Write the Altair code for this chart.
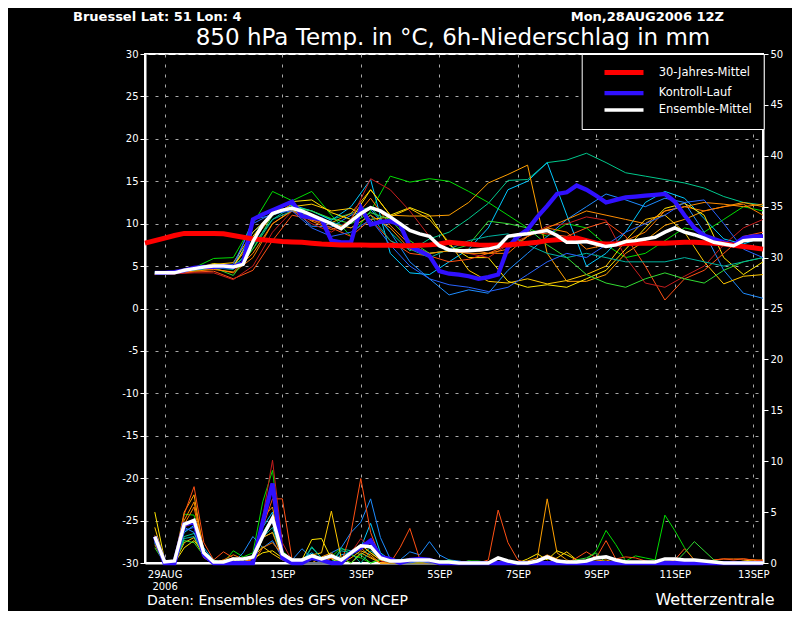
import altair as alt
import pandas as pd

# ---------------- axis / categories ----------------
# x values are hours after the model run 28AUG2006 12Z
x_domain = [0, 378]
x_tick_hours = [12, 84, 132, 180, 228, 276, 324, 372]
x_tick_labels = [["29AUG", "2006"], "1SEP", "3SEP", "5SEP", "7SEP", "9SEP", "11SEP", "13SEP"]
temp_ticks = list(range(-30, 31, 5))
precip_ticks = list(range(0, 51, 5))

series_names = ["30-Jahres-Mittel", "Kontroll-Lauf", "Ensemble-Mittel"]
series_colors = ["#ff0000", "#3010ff", "#ffffff"]
series_widths = [5, 3.5, 3.5]

member_names = ["m01", "m02", "m03", "m04", "m05", "m06", "m07",
                "m08", "m09", "m10", "m11", "m12", "m13", "m14"]
member_colors = ["#00dc00", "#00c88c", "#00c8ff", "#1e8cff", "#ffa000", "#ff7800", "#ffe600",
                 "#ffc800", "#ff5014", "#c81e1e", "#32dc32", "#00b4a0", "#ff8c00", "#2864ff"]

# ---------------- 850 hPa temperature, members (12-hourly from h=6) ----------------
temp_members = {
    "m01": [4.2, 4.3, 4.8, 5.9, 6.0, 10.0, 13.8, 12.7, 13.8, 11.0, 8.5, 11.5, 15.6, 14.9, 15.3, 15.0,
            13.8, 12.5, 11.0, 9.5, 8.5, 10.0, 9.5, 7.5, 6.0, 6.5, 8.0, 9.5, 9.0, 10.5, 12.0, 11.5],
    "m02": [4.1, 4.2, 4.6, 4.9, 5.0, 7.0, 10.5, 12.0, 11.5, 10.5, 11.2, 12.0, 9.0, 6.8, 8.2, 9.0,
            10.6, 12.4, 15.1, 15.2, 17.2, 17.5, 18.3, 17.2, 16.0, 15.6, 15.2, 14.8, 14.2, 13.2, 12.5, 12.2],
    "m03": [4.3, 4.3, 4.6, 5.0, 4.8, 9.0, 11.0, 12.2, 11.5, 10.4, 12.0, 15.2, 6.5, 4.2, 4.0, 5.5,
            7.0, 9.5, 14.0, 15.0, 17.2, 11.0, 5.0, 6.5, 9.0, 12.5, 13.8, 13.0, 10.6, 8.2, 7.6, 8.4],
    "m04": [4.1, 4.2, 4.5, 4.9, 4.7, 10.5, 11.0, 11.8, 9.7, 9.6, 11.0, 11.7, 9.0, 5.5, 3.5, 1.6,
            2.2, 1.8, 4.5, 6.5, 8.5, 10.5, 12.0, 13.5, 12.8, 12.0, 13.0, 12.5, 9.0, 4.5, 1.8, 1.2],
    "m05": [4.0, 4.1, 4.5, 4.8, 5.0, 8.0, 11.0, 12.3, 10.4, 10.1, 11.2, 14.0, 11.0, 10.9, 10.9, 11.0,
            12.5, 14.8, 15.8, 16.9, 6.5, 3.2, 3.2, 4.0, 6.5, 8.0, 9.8, 10.5, 11.5, 12.0, 12.5, 12.0],
    "m06": [4.0, 4.2, 4.5, 4.7, 4.2, 6.0, 10.0, 11.6, 10.3, 9.3, 10.2, 13.0, 9.8, 7.5, 6.5, 6.8,
            7.0, 6.5, 6.5, 8.5, 9.5, 9.0, 7.0, 7.5, 8.0, 9.0, 11.5, 12.0, 11.5, 12.0, 12.3, 11.0],
    "m07": [4.1, 4.4, 4.7, 5.3, 5.0, 8.5, 11.5, 12.6, 12.8, 11.3, 10.5, 14.0, 11.0, 11.9, 11.0, 7.5,
            6.0, 6.0, 3.2, 2.5, 2.8, 2.5, 3.5, 4.5, 7.0, 9.5, 11.8, 12.4, 11.0, 6.0, 4.0, 5.5],
    "m08": [4.2, 4.3, 4.6, 5.2, 5.4, 9.0, 11.2, 12.0, 12.3, 11.5, 11.8, 10.5, 10.8, 11.8, 10.5, 7.8,
            4.5, 3.2, 3.0, 3.5, 2.9, 3.3, 4.0, 5.0, 8.0, 10.5, 11.0, 9.0, 5.5, 2.9, 3.8, 4.0],
    "m09": [4.0, 4.1, 4.3, 4.4, 3.5, 4.5, 8.0, 11.0, 10.5, 9.5, 8.5, 10.5, 8.0, 6.5, 6.2, 5.5,
            5.8, 6.5, 7.5, 9.0, 8.8, 8.5, 9.5, 10.2, 8.5, 5.0, 1.0, 3.5, 4.5, 6.5, 8.5, 9.0],
    "m10": [4.0, 4.1, 4.2, 4.2, 3.4, 5.0, 9.0, 11.5, 10.0, 9.0, 10.5, 15.3, 14.0, 11.5, 8.5, 6.8,
            6.5, 6.0, 7.5, 8.5, 9.7, 10.0, 10.8, 10.4, 6.0, 3.0, 2.5, 3.8, 5.0, 7.5, 9.5, 10.5],
    "m11": [4.2, 4.3, 4.5, 4.8, 3.9, 7.0, 11.0, 12.0, 11.5, 10.6, 10.0, 11.3, 10.5, 8.0, 6.5, 6.8,
            7.5, 10.3, 10.0, 9.5, 7.5, 6.0, 4.0, 3.0, 2.5, 3.5, 4.2, 3.5, 3.0, 4.5, 5.5, 6.0],
    "m12": [4.1, 4.2, 4.5, 4.8, 4.6, 7.5, 10.5, 11.5, 11.0, 10.2, 9.5, 11.0, 8.0, 7.0, 6.0, 7.0,
            8.0, 8.5, 8.8, 7.5, 6.5, 6.0, 6.5, 6.0, 5.5, 5.5, 5.5, 6.0, 5.5, 5.0, 5.5, 6.0],
    "m13": [4.1, 4.2, 4.4, 4.6, 4.3, 6.5, 10.0, 11.5, 10.8, 10.0, 9.5, 11.0, 9.5, 7.0, 6.5, 6.8,
            6.5, 6.5, 7.0, 8.5, 9.5, 10.5, 11.5, 11.0, 10.5, 10.0, 11.5, 12.0, 12.5, 12.3, 12.0, 12.3],
    "m14": [4.2, 4.2, 4.6, 4.9, 5.2, 10.0, 11.2, 11.5, 9.5, 8.5, 9.0, 10.5, 7.5, 5.0, 3.5, 2.8,
            2.5, 2.0, 2.5, 4.0, 5.5, 6.5, 6.0, 7.5, 9.0, 10.0, 11.0, 12.5, 12.8, 10.0, 7.0, 6.0],
}

# ---------------- thick lines (6-hourly) ----------------
ens_mean_temp = [4.2, 4.2, 4.2, 4.5, 4.7, 4.9, 5.0, 5.0, 4.9, 5.2, 7.9, 9.9, 11.2, 11.6, 11.8, 11.5,
                 11.0, 10.5, 10.0, 9.4, 10.3, 11.2, 11.9, 11.5, 10.8, 10.0, 9.2, 8.8, 8.5, 7.4, 6.9, 6.8,
                 6.8, 6.9, 7.0, 7.3, 8.5, 8.7, 8.8, 9.0, 9.2, 8.6, 7.8, 7.8, 7.9, 7.6, 7.3, 7.5,
                 7.9, 8.0, 8.2, 8.4, 9.0, 9.5, 9.0, 8.7, 8.3, 7.8, 7.6, 7.4, 8.0, 8.1, 8.1]
control_temp = [4.2, 4.2, 4.3, 4.5, 4.8, 4.9, 4.9, 5.0, 4.9, 5.4, 10.5, 11.1, 11.6, 12.1, 12.6, 10.9,
                10.7, 10.5, 8.0, 7.8, 7.8, 11.9, 9.9, 10.2, 10.3, 9.9, 7.3, 6.8, 6.2, 4.4, 4.1, 4.0,
                3.8, 3.5, 3.7, 4.0, 7.2, 8.5, 9.3, 10.8, 12.1, 13.5, 13.7, 14.5, 14.0, 13.3, 12.5, 12.8,
                13.1, 13.2, 13.3, 13.4, 13.5, 12.6, 11.0, 9.5, 8.6, 8.2, 7.8, 7.5, 8.3, 8.5, 8.5]
# climatology, 6-hourly from h=0
clim_temp = [7.7, 8.0, 8.3, 8.6, 8.85, 8.85, 8.85, 8.85, 8.8, 8.6, 8.4, 8.2, 8.1, 8.0, 7.9, 7.85,
             7.8, 7.7, 7.6, 7.55, 7.5, 7.5, 7.5, 7.45, 7.45, 7.45, 7.4, 7.4, 7.45, 7.5, 7.6, 7.8,
             7.7, 7.6, 7.5, 7.45, 7.5, 7.5, 7.6, 7.7, 7.8, 8.0, 8.1, 8.2, 8.3, 8.0, 7.7, 7.6,
             7.6, 7.65, 7.7, 7.7, 7.7, 7.7, 7.75, 7.8, 7.8, 7.75, 7.7, 7.6, 7.45, 7.3, 7.15, 7.0]

# ---------------- 6h precipitation (hour: mm, other 6h steps dry) ----------------
precip_members = {
    "m01": {6: 2.4, 24: 4.8, 30: 4.7, 36: 0.8, 54: 1.2, 60: 0.6, 66: 1.0, 72: 6.0, 78: 9.1, 84: 1.2,
            90: 0.3, 114: 0.6, 120: 1.5, 126: 0.8, 132: 0.5, 144: 0.3, 150: 0.2, 162: 0.3, 174: 0.3,
            186: 0.3, 198: 0.2, 204: 0.2, 270: 0.3, 276: 1.2, 282: 3.2, 288: 1.8, 294: 0.2, 300: 0.7,
            306: 0.5, 312: 0.3, 318: 4.7, 324: 3.2, 330: 1.5, 336: 0.3},
    "m02": {6: 2.0, 24: 2.6, 30: 2.9, 36: 1.2, 72: 3.0, 78: 4.5, 84: 0.5, 102: 1.6, 108: 0.5,
            120: 1.4, 126: 1.2, 132: 0.8, 138: 1.5, 144: 0.3, 168: 0.3, 180: 0.2, 186: 0.2},
    "m03": {6: 2.2, 24: 3.0, 30: 3.7, 36: 1.5, 42: 0.2, 66: 0.8, 72: 3.5, 78: 5.0, 84: 0.6, 96: 0.4,
            102: 1.0, 108: 0.3, 120: 0.8, 126: 1.0, 132: 1.5, 138: 3.9, 144: 1.0, 150: 0.3, 156: 0.3,
            162: 0.4, 168: 0.2},
    "m04": {6: 2.0, 24: 3.5, 30: 3.0, 36: 0.5, 60: 1.0, 66: 2.6, 72: 1.5, 78: 2.2, 84: 0.5, 90: 0.3,
            96: 1.4, 102: 0.5, 114: 1.0, 120: 1.5, 126: 3.0, 132: 4.0, 138: 6.3, 144: 2.5, 150: 0.4,
            156: 0.3, 162: 1.1, 168: 0.8, 174: 2.1, 180: 0.8, 186: 0.3, 192: 0.2},
    "m05": {6: 1.8, 18: 0.3, 24: 5.0, 30: 6.7, 36: 1.0, 72: 4.5, 78: 5.5, 84: 0.4, 108: 0.6, 114: 1.0,
            126: 0.5, 132: 1.2, 138: 0.8, 234: 0.2, 240: 0.5, 246: 6.3, 252: 1.0, 258: 0.3, 276: 0.2,
            282: 0.3},
    "m06": {6: 2.7, 24: 3.8, 30: 5.5, 36: 0.7, 48: 0.3, 54: 0.8, 60: 0.4, 72: 1.5, 78: 2.0, 84: 0.8,
            96: 0.3, 102: 0.8, 114: 0.5, 126: 1.0, 132: 1.8, 138: 1.0, 144: 0.3, 348: 0.3, 354: 0.4,
            360: 0.4, 366: 0.4, 372: 0.3, 378: 0.3},
    "m07": {6: 5.0, 12: 0.3, 24: 1.5, 30: 2.2, 36: 1.0, 54: 0.3, 66: 0.4, 72: 1.0, 78: 1.2, 84: 0.5,
            96: 0.3, 102: 2.3, 108: 2.4, 114: 0.4, 126: 1.2, 132: 1.8, 138: 1.0, 144: 0.3, 234: 0.4,
            240: 0.9, 246: 0.3, 252: 1.2, 258: 0.8, 264: 0.3},
    "m08": {6: 3.5, 12: 0.2, 24: 2.0, 30: 2.5, 36: 0.6, 66: 0.5, 72: 1.6, 78: 0.9, 84: 0.3, 102: 0.8,
            108: 1.0, 114: 5.1, 120: 0.5, 132: 1.0, 138: 0.5, 252: 0.5, 258: 1.1, 264: 0.3, 366: 0.2,
            372: 0.3},
    "m09": {6: 2.3, 24: 4.8, 30: 7.5, 36: 2.0, 42: 0.3, 48: 1.1, 54: 0.5, 66: 0.4, 72: 3.5, 78: 6.3,
            84: 6.3, 90: 0.3, 114: 0.5, 126: 3.0, 132: 8.3, 138: 3.0, 144: 0.5, 156: 1.5, 162: 3.4,
            168: 0.4, 210: 0.3, 216: 5.2, 222: 2.0, 228: 0.3, 264: 0.5, 270: 1.1, 276: 0.5, 282: 2.2,
            288: 0.4, 294: 0.6, 300: 0.5, 306: 0.2, 324: 0.3, 330: 1.4, 336: 0.3, 348: 0.3, 354: 0.4,
            360: 0.3, 366: 0.4, 372: 0.3, 378: 0.2},
    "m10": {6: 2.5, 24: 3.5, 30: 4.0, 36: 0.5, 72: 4.5, 78: 10.1, 84: 2.0, 90: 0.2, 126: 1.0,
            132: 2.4, 138: 1.5, 144: 0.2},
    "m11": {6: 1.5, 24: 2.2, 30: 2.0, 36: 0.7, 42: 0.3, 54: 0.5, 72: 2.5, 78: 3.0, 84: 0.8, 120: 0.5,
            132: 0.8, 144: 0.4, 150: 0.3, 174: 0.3, 186: 0.3, 198: 0.2, 264: 0.3, 270: 0.5, 276: 1.0,
            330: 1.0, 336: 2.1, 342: 1.2, 348: 0.3},
    "m12": {6: 2.0, 24: 2.4, 30: 2.6, 36: 0.8, 72: 2.5, 78: 3.5, 84: 0.4, 102: 1.5, 108: 0.5,
            120: 1.2, 126: 1.0, 138: 1.2, 144: 0.4},
    "m13": {6: 2.2, 24: 4.2, 30: 6.0, 36: 1.2, 48: 0.3, 72: 2.5, 78: 3.0, 84: 0.4, 126: 0.8,
            132: 1.5, 138: 0.6, 240: 0.3, 246: 0.8, 252: 0.4},
    "m14": {6: 2.1, 24: 3.2, 30: 3.5, 36: 0.6, 72: 3.0, 78: 4.0, 84: 0.6, 126: 1.0, 132: 1.8,
            138: 2.2, 144: 0.6, 150: 0.3, 168: 0.2},
}
control_precip = {6: 2.6, 24: 3.8, 30: 4.0, 36: 0.8, 72: 4.0, 78: 7.8, 84: 0.5, 102: 0.5, 108: 0.3,
                  126: 1.0, 132: 1.5, 138: 2.2, 144: 0.6, 150: 0.4, 162: 0.3, 168: 0.4, 174: 0.3}
ens_mean_precip = [2.6, 0.1, 0.2, 3.8, 4.2, 1.0, 0.1, 0.1, 0.4, 0.4, 0.6, 2.6, 4.4, 0.9, 0.3, 0.3,
                   0.7, 0.4, 0.7, 0.3, 1.0, 1.7, 1.6, 0.5, 0.2, 0.2, 0.3, 0.3, 0.3, 0.1, 0.1, 0.0,
                   0.0, 0.0, 0.0, 0.5, 0.2, 0.0, 0.0, 0.2, 0.6, 0.2, 0.1, 0.1, 0.2, 0.5, 0.6, 0.3,
                   0.1, 0.1, 0.1, 0.1, 0.4, 0.4, 0.3, 0.3, 0.2, 0.1, 0.0, 0.0, 0.0, 0.0, 0.0]

# ---------------- build tables ----------------
HOURS6 = list(range(6, 379, 6))


def rows(values, start, step, **extra):
    return [dict(h=start + step * i, v=val, **extra) for i, val in enumerate(values)]


t_mem_rows = []
for name, vals in temp_members.items():
    t_mem_rows += rows(vals, 6, 12, member=name)
t_mem_df = pd.DataFrame(t_mem_rows)

clim_df = pd.DataFrame(rows(clim_temp, 0, 6, series=series_names[0]))
ctrl_df = pd.DataFrame(rows(control_temp, 6, 6, series=series_names[1]))
mean_df = pd.DataFrame(rows(ens_mean_temp, 6, 6, series=series_names[2]))

p_mem_rows = []
for name, spikes in precip_members.items():
    p_mem_rows += [dict(h=h, p=spikes.get(h, 0.0), member=name) for h in HOURS6]
p_mem_df = pd.DataFrame(p_mem_rows)
p_ctrl_df = pd.DataFrame([dict(h=h, p=control_precip.get(h, 0.0), series=series_names[1]) for h in HOURS6])
p_mean_df = pd.DataFrame([dict(h=h, p=val, series=series_names[2])
                          for h, val in zip(HOURS6, ens_mean_precip)])

# ---------------- encodings ----------------


def js(lab):
    if isinstance(lab, list):
        return "[" + ",".join("'" + s + "'" for s in lab) + "]"
    return "'" + lab + "'"


x_label_expr = ""
for h, lab in zip(x_tick_hours, x_tick_labels):
    x_label_expr += f"datum.value == {h} ? {js(lab)} : "
x_label_expr += "''"

X = alt.X("h:Q", scale=alt.Scale(domain=x_domain, nice=False, zero=False),
          axis=alt.Axis(values=x_tick_hours, title=None, grid=True, ticks=False,
                        labelExpr=x_label_expr, labelPadding=6, labelLineHeight=12,
                        labelOverlap=False, labelFlush=False, labelBound=False))
YT = alt.Y("v:Q", scale=alt.Scale(domain=[-30, 30], nice=False, zero=False),
           axis=alt.Axis(values=temp_ticks, orient="left", title=None, grid=True, tickSize=5,
                         labelExpr="toString(datum.value)", labelFlush=False, labelOverlap=False))
YP = alt.Y("p:Q", scale=alt.Scale(domain=[0, 50], nice=False, zero=False),
           axis=alt.Axis(values=precip_ticks, orient="right", title=None, grid=False, tickSize=5,
                         labelFlush=False, labelOverlap=False))

member_color = alt.Color("member:N", scale=alt.Scale(domain=member_names, range=member_colors),
                         legend=None)
legend = alt.Legend(title=None, orient="none", legendX=436.7, legendY=0, padding=12,
                    strokeColor="white", fillColor="black",
                    symbolType="M1.075,0H10.825", symbolSize=64, symbolStrokeWidth=4.5,
                    symbolFillColor="transparent",
                    labelOffset=52, labelColor="white", labelFont="DejaVu Sans",
                    labelFontSize=11.5, rowPadding=1.5)
S = alt.Stroke("series:N", scale=alt.Scale(domain=series_names, range=series_colors), legend=legend)
SW = alt.StrokeWidth("series:N", scale=alt.Scale(domain=series_names, range=series_widths),
                     legend=None)

t_members = alt.Chart(t_mem_df).mark_line(strokeWidth=1).encode(x=X, y=YT, color=member_color)
t_ctrl = alt.Chart(ctrl_df).mark_line().encode(x=X, y=YT, stroke=S, strokeWidth=SW)
t_clim = alt.Chart(clim_df).mark_line().encode(x=X, y=YT, stroke=S, strokeWidth=SW)
t_mean = alt.Chart(mean_df).mark_line().encode(x=X, y=YT, stroke=S, strokeWidth=SW)
temp_layer = alt.layer(t_members, t_ctrl, t_clim, t_mean)

p_members = alt.Chart(p_mem_df).mark_line(strokeWidth=1).encode(x=X, y=YP, color=member_color)
p_ctrl = alt.Chart(p_ctrl_df).mark_line().encode(x=X, y=YP, stroke=S, strokeWidth=SW)
p_mean = alt.Chart(p_mean_df).mark_line().encode(x=X, y=YP, stroke=S, strokeWidth=SW)
precip_layer = alt.layer(p_members, p_ctrl, p_mean)


def label(text, x, y, size, align="left", weight="normal"):
    return alt.Chart(pd.DataFrame({"t": [text]})).mark_text(
        align=align, baseline="alphabetic", fontSize=size, fontWeight=weight,
        font="DejaVu Sans", color="white"
    ).encode(x=alt.value(x), y=alt.value(y), text="t:N")


texts = [
    label("Bruessel  Lat: 51 Lon: 4", -72, -33.5, 13, "left", "bold"),
    label("Mon,28AUG2006 12Z", 579, -33.5, 13, "right", "bold"),
    label("850 hPa Temp. in °C, 6h-Niederschlag in mm", 308, -9, 23, "center"),
    label("Daten: Ensembles des GFS von NCEP", 2, 551, 14, "left"),
    label("Wetterzentrale", 570, 551, 16, "center"),
]

chart = alt.layer(temp_layer, precip_layer, *texts).resolve_scale(y="independent").properties(
    width=618, height=509, background="black",
    padding={"left": 137, "top": 46, "right": 29, "bottom": 48},
    autosize=alt.AutoSizeParams(type="none"),
).configure_view(stroke="white", strokeWidth=2).configure_axis(
    domainColor="white", domainWidth=2, tickColor="white", tickWidth=1,
    labelColor="white", labelFont="DejaVu Sans", labelFontSize=10, labelPadding=2,
    gridColor="#a8a8a8", gridDash=[3, 7], gridWidth=1, gridOpacity=1,
)

chart.save("out.html", embed_options={"renderer": "svg", "actions": False})
